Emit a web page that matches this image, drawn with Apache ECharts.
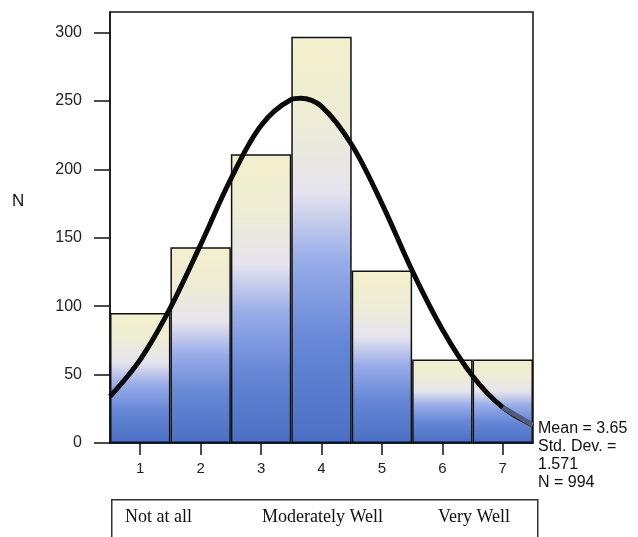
<!DOCTYPE html>
<html>
<head>
<meta charset="utf-8">
<script src="https://cdn.jsdelivr.net/npm/echarts@6/dist/echarts.min.js"></script>
<style>
html,body{margin:0;padding:0;background:#fff;}
#chart{width:638px;height:537px;}
</style>
</head>
<body>
<div id="chart"></div>
<script>
// ---- data ----
const categories = ['1', '2', '3', '4', '5', '6', '7'];
const counts = [95, 143, 211, 297, 126, 61, 61];
const yTicks = [0, 50, 100, 150, 200, 250, 300];
// fitted normal curve
const curveX = [0.5, 1.0, 1.5, 2.0, 2.5, 3.0, 3.5, 3.65, 4.0, 4.5, 5.0, 5.5, 6.0, 6.5, 7.0, 7.5];
const curveY = [34, 61, 99, 145, 193, 232, 251, 252, 246, 218, 175, 126, 83, 49, 26, 13];
const statsLines = ['Mean = 3.65', 'Std. Dev. =', '1.571', 'N = 994'];
const scaleLabels = ['Not at all', 'Moderately Well', 'Very Well'];
const yTitle = 'N';

const curveData = curveX.map((x, i) => [x, curveY[i]]);
const curveTail = curveData.filter(d => d[0] >= 7.0);

const chart = echarts.init(document.getElementById('chart'), null, {renderer: 'canvas'});

const barGradient = new echarts.graphic.LinearGradient(0, 0, 0, 1, [
  {offset: 0, color: '#f2f0cc'},
  {offset: 0.2, color: '#eeecd4'},
  {offset: 0.38, color: '#e6e4ee'},
  {offset: 0.55, color: '#98ace9'},
  {offset: 0.75, color: '#6687d6'},
  {offset: 1, color: '#4b6fc4'}
]);

chart.setOption({
  animation: false,
  backgroundColor: '#ffffff',
  grid: {
    left: 110, right: 105, top: 12, bottom: 94,
    show: true, borderColor: '#111', borderWidth: 1.5, backgroundColor: 'transparent'
  },
  xAxis: [
    {
      type: 'category',
      data: categories,
      boundaryGap: true,
      axisLine: {show: true, lineStyle: {color: '#111', width: 1.5}},
      axisTick: {show: true, alignWithLabel: true, length: 12, lineStyle: {color: '#111', width: 1.5}},
      axisLabel: {color: '#222', fontFamily: 'Liberation Sans, Arial, sans-serif', fontSize: 15, margin: 18},
      splitLine: {show: false}
    },
    {
      type: 'value',
      min: 0.5, max: 7.5,
      show: false
    }
  ],
  yAxis: {
    type: 'value',
    min: 0, max: 315,
    axisLine: {show: true, lineStyle: {color: '#111', width: 1.5}},
    axisTick: {show: true, length: 16, customValues: yTicks, lineStyle: {color: '#111', width: 1.5}},
    axisLabel: {customValues: yTicks, color: '#222', fontFamily: 'Liberation Sans, Arial, sans-serif', fontSize: 16, margin: 28},
    splitLine: {show: false}
  },
  series: [
    {
      type: 'bar',
      xAxisIndex: 0,
      data: counts,
      barCategoryGap: '0%',
      itemStyle: {color: barGradient, borderColor: '#111', borderWidth: 1.5},
      z: 2
    },
    {
      type: 'line',
      xAxisIndex: 1,
      data: curveData,
      smooth: 0.35,
      showSymbol: false,
      symbol: 'none',
      lineStyle: {color: '#0a0a0a', width: 5},
      z: 5
    },
    {
      type: 'line',
      xAxisIndex: 1,
      data: curveTail,
      smooth: 0.35,
      showSymbol: false,
      symbol: 'none',
      lineStyle: {color: '#4f5d78', width: 5},
      z: 6
    }
  ],
  graphic: [
    {
      type: 'text',
      left: 12, top: 193,
      style: {text: yTitle, fill: '#111', font: '17px "Liberation Sans", Arial, sans-serif'}
    },
    {
      type: 'text',
      left: 538, top: 420,
      style: {
        text: statsLines.join('\n'),
        fill: '#111',
        font: '16px "Liberation Sans", Arial, sans-serif',
        lineHeight: 18
      }
    },
    {
      type: 'rect',
      left: 111, top: 499,
      shape: {width: 426, height: 60},
      style: {fill: 'transparent', stroke: '#333', lineWidth: 1.5}
    },
    {
      type: 'text', left: 125, top: 508,
      style: {text: scaleLabels[0], fill: '#111', font: '18px "Liberation Serif", "Times New Roman", serif'}
    },
    {
      type: 'text', left: 262, top: 508,
      style: {text: scaleLabels[1], fill: '#111', font: '18px "Liberation Serif", "Times New Roman", serif'}
    },
    {
      type: 'text', left: 438, top: 508,
      style: {text: scaleLabels[2], fill: '#111', font: '18px "Liberation Serif", "Times New Roman", serif'}
    }
  ]
});
</script>
</body>
</html>
